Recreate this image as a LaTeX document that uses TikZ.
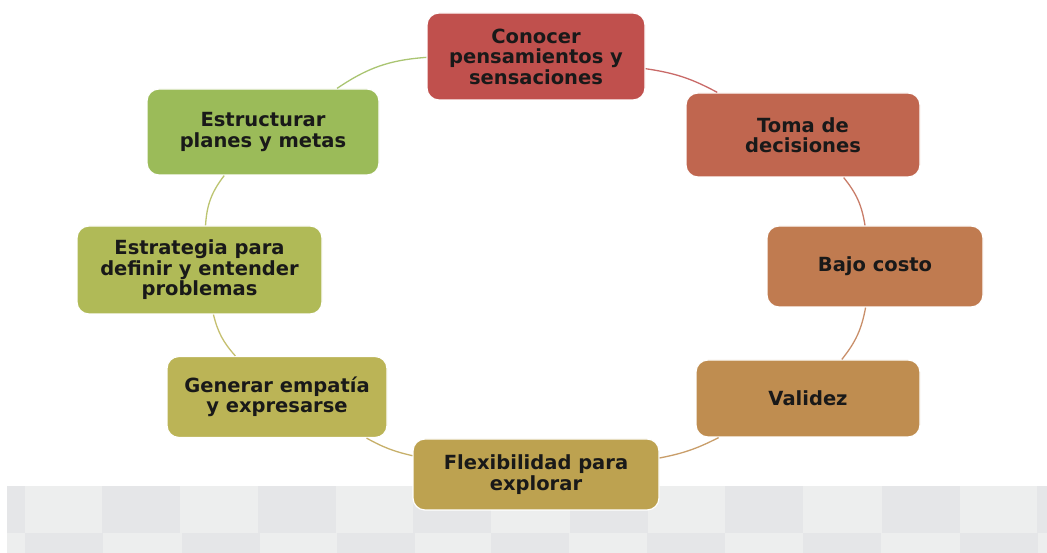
\documentclass[tikz,border=0pt]{standalone}
\usepackage{fontspec}
\setmainfont{DejaVu Sans}
\definecolor{cRojo}{HTML}{C0504D}
\definecolor{cTeja}{HTML}{C0664F}
\definecolor{cNaranja}{HTML}{C07B50}
\definecolor{cOcre}{HTML}{BF8D50}
\definecolor{cOro}{HTML}{BDA250}
\definecolor{cMostaza}{HTML}{BBB456}
\definecolor{cOliva}{HTML}{B0BA57}
\definecolor{cVerde}{HTML}{9BBB59}
\definecolor{fondo}{HTML}{EDEEEE}
\definecolor{losa}{HTML}{E5E6E8}

\begin{document}
\begin{tikzpicture}[x=1pt,y=1pt,
	caja/.style={rounded corners=12pt, draw=white, line width=1.2pt, align=center,
		text=black!90, font=\fontsize{19.5}{20.5}\selectfont\bfseries},
	arco/.style={line width=1.3pt}]
		\useasboundingbox (0,0) rectangle (1047,553);
		\fill[white] (0,0) rectangle (1047,553);
		% gray floor
		\fill[fondo] (7,0) rectangle (1047,67);
		\fill[losa] (7,20) rectangle (25,67);
		\foreach \x in {102,258,413,570,725,882,1037}
			\fill[losa] (\x,20) rectangle +(78,47);
		\foreach \x in {25,182,337,491,647,803,960}
			\fill[losa] (\x,0) rectangle +(78,20);
		% boxes
		\node[caja, fill=cRojo, minimum width=218pt, minimum height=87pt] (con) at (536,496.5) {Conocer\\pensamientos y\\sensaciones};
		\node[caja, fill=cTeja, minimum width=234pt, minimum height=84pt] (tom) at (803,418) {Toma de\\decisiones};
		\node[caja, fill=cNaranja, minimum width=216pt, minimum height=81pt] (baj) at (875,286.5) {Bajo costo};
		\node[caja, fill=cOcre, minimum width=224pt, minimum height=77pt] (val) at (808,154.5) {Validez};
		\node[caja, fill=cOro, minimum width=246pt, minimum height=71pt] (fle) at (536,78.5) {Flexibilidad para\\explorar};
		\node[caja, fill=cMostaza, minimum width=220pt, minimum height=81pt] (gen) at (277,156) {Generar empatía\\y expresarse};
		\node[caja, fill=cOliva, minimum width=245pt, minimum height=88pt] (est) at (199.5,283) {Estrategia para\\definir y entender\\problemas};
		\node[caja, fill=cVerde, minimum width=232pt, minimum height=86pt] (str) at (263,421) {Estructurar\\planes y metas};
		% cycle
		\foreach \a/\b/\c/\k in {con/tom/cRojo/10, tom/baj/cTeja/15, baj/val/cNaranja/14, val/fle/cOcre/8,
			fle/gen/cOro/8, gen/est/cMostaza/14, est/str/cOliva/17, str/con/cVerde/15}
			\draw[arco, \c!85] (\a) to[bend left=\k] (\b);
\end{tikzpicture}
\end{document}
